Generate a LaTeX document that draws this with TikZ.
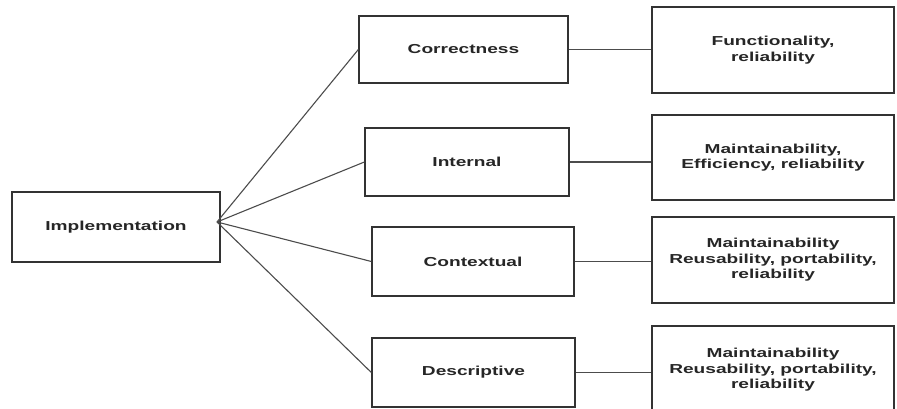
\documentclass[tikz,border=0pt]{standalone}
\usepackage{fontspec}
\setmainfont[FakeStretch=1.47]{Liberation Sans}
\begin{document}
\begin{tikzpicture}[x=1pt,y=-1pt,
  box/.style={draw=black!80, line width=1.3pt, fill=white, inner sep=0pt,
    align=center, text=black!85, font=\fontsize{13}{15.5}\selectfont\bfseries},
  link/.style={draw=black!70, line width=1.1pt}]
\useasboundingbox (0,0) rectangle (897,409);
\clip (0,0) rectangle (897,409);
% left
\node[box, minimum width=208pt, minimum height=70pt] (impl) at (116,227) {Implementation};
\coordinate (hub) at (217,222);
% middle column
\node[box, minimum width=209pt, minimum height=67pt] (corr) at (463.5,49.5) {Correctness};
\node[box, minimum width=204pt, minimum height=68pt] (int) at (467,162) {Internal};
\node[box, minimum width=202pt, minimum height=69pt] (ctx) at (473,261.5) {Contextual};
\node[box, minimum width=203pt, minimum height=69pt] (desc) at (473.5,372.5) {Descriptive};
% right column
\node[box, minimum width=242pt, minimum height=86pt] (r1) at (773,50) {Functionality,\\reliability};
\node[box, minimum width=242pt, minimum height=85pt] (r2) at (773,157.5) {Maintainability,\\Efficiency, reliability};
\node[box, minimum width=242pt, minimum height=86pt] (r3) at (773,260) {Maintainability\\Reusability, portability,\\reliability};
\node[box, minimum width=242pt, minimum height=88pt] (r4) at (773,370) {Maintainability\\Reusability, portability,\\reliability};
% connectors from hub
\draw[link] (hub) -- (corr.west);
\draw[link] (hub) -- (int.west);
\draw[link] (hub) -- (ctx.west);
\draw[link] (hub) -- (desc.west);
% connectors middle to right
\draw[link] (corr.east) -- (corr.east -| r1.west);
\draw[link] (int.east) -- (int.east -| r2.west);
\draw[link] (ctx.east) -- (ctx.east -| r3.west);
\draw[link] (desc.east) -- (desc.east -| r4.west);
\end{tikzpicture}
\end{document}
